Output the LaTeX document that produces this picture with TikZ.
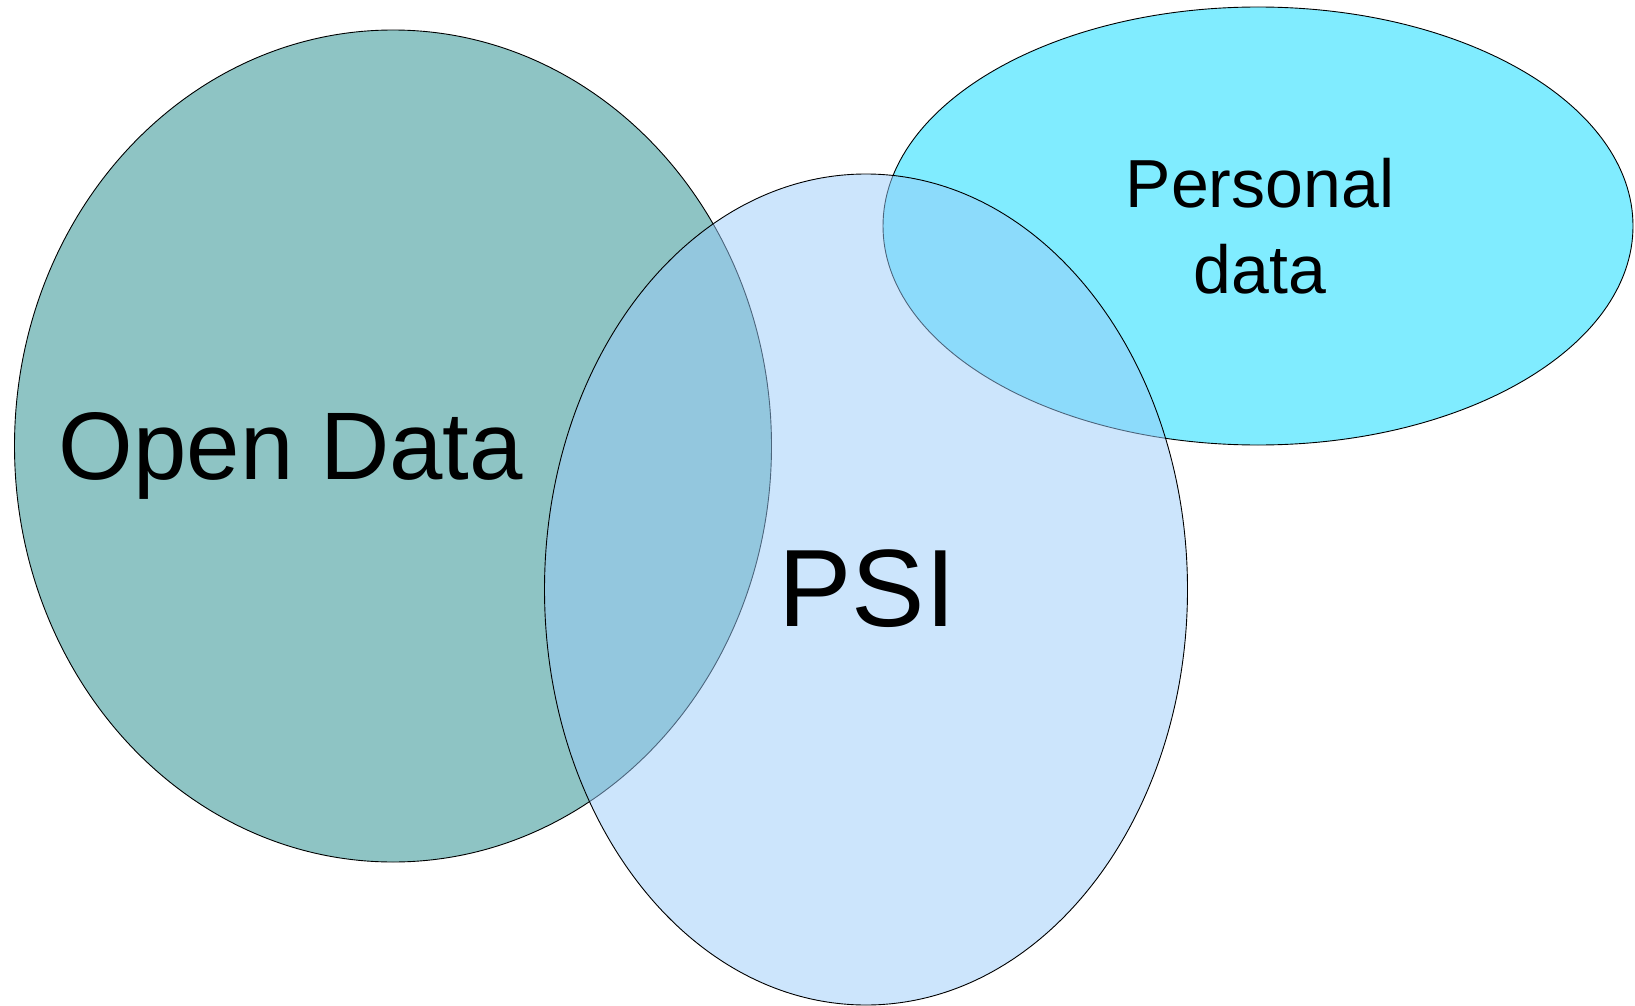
\documentclass[tikz,border=0pt]{standalone}
\usepackage{fontspec}
\setsansfont{Liberation Sans}
\usepackage{tikz}
\usetikzlibrary{
  shapes.geometric,
  positioning
}
\definecolor{colOpen}    {HTML}{8EC4C4}
\definecolor{colPSI}     {HTML}{99CBF9}
\definecolor{colPersonal}{HTML}{80ECFF}
\tikzset{
  %% one set of the diagram
  venn/.style={
    ellipse, draw=black, line width=0.9pt,
    fill=#1, inner sep=0pt, outer sep=0pt
  },
  venn/.default=white,
  %% set label: font size, line distance
  setlabel/.style 2 args={
    font=\sffamily\fontsize{#1}{#2}\selectfont,
    inner sep=0pt, align=center, text=black
  }
}

\begin{document}
\begin{tikzpicture}[x=1pt, y=-1pt]

\useasboundingbox (0,0) rectangle (1635,1006);

% ════════════════════════════════════════════════════════════
% SETS
% ════════════════════════════════════════════════════════════
\node[venn=colOpen, minimum width=757pt, minimum height=832pt]
     (open) at (393,446) {};

\node[venn=colPersonal, minimum width=750pt, minimum height=438pt]
     (personal) at (1258,226) {};

% PSI lies over both, half see-through
\node[venn=colPSI, fill opacity=0.5,
      minimum width=643pt, minimum height=831pt]
     (psi) at (866,589.5) {};

% ════════════════════════════════════════════════════════════
% LABELS
% ════════════════════════════════════════════════════════════
\node[setlabel={96}{116}, anchor=base] (openlbl) at (291,479) {Open Data};
\node[setlabel={110}{130}, anchor=base] (psilbl) at (867,626) {PSI};
\node[setlabel={68}{86}] (personallbl) at (1260,226) {Personal\\data};

\end{tikzpicture}
\end{document}
